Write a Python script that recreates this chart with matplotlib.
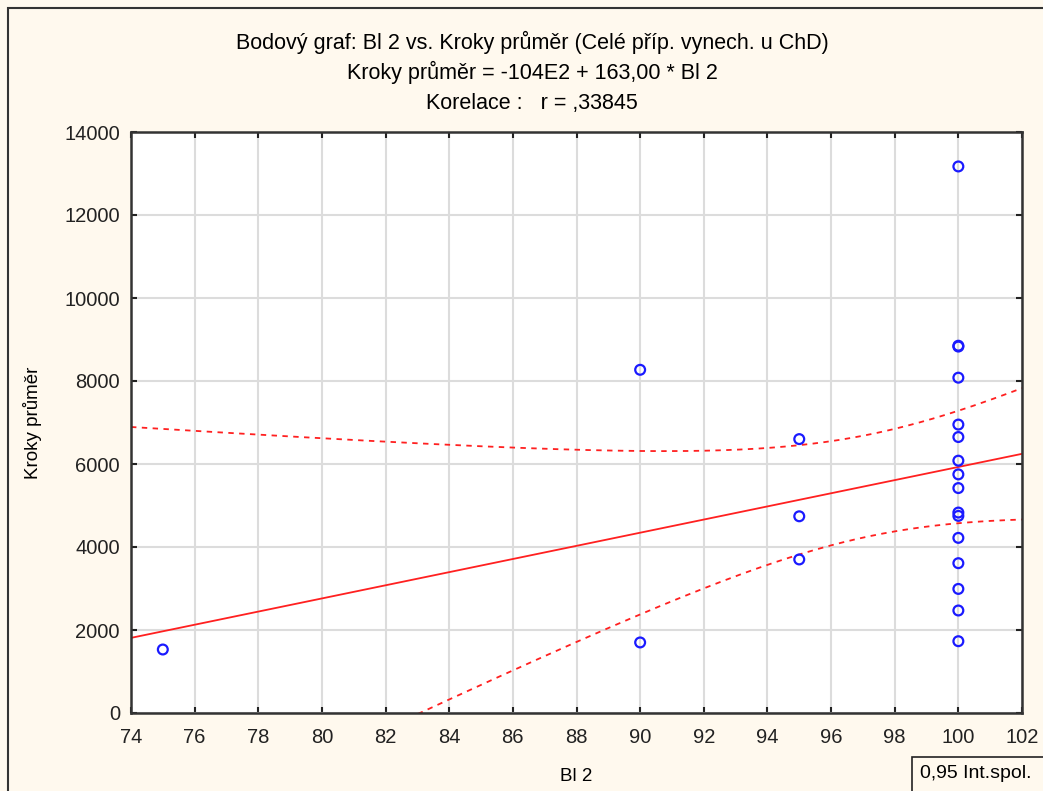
import numpy as np
import matplotlib
matplotlib.use("Agg")
import matplotlib.pyplot as plt
from matplotlib.patches import Rectangle

plt.rcParams['font.family'] = ['Liberation Sans', 'DejaVu Sans']

# data
bl2 = [75, 90, 90, 95, 95, 95,
       100, 100, 100, 100, 100, 100, 100, 100, 100, 100, 100, 100, 100, 100, 100, 100]
kroky = [1530, 8270, 1700, 6600, 4740, 3700,
         13170, 8850, 8830, 8080, 6950, 6650, 6080, 5750, 5420, 4830, 4750, 4220, 3610, 2990, 2470, 1730]
title_lines = ["Bodový graf: Bl 2 vs. Kroky průměr (Celé příp. vynech. u ChD)",
               "Kroky průměr = -104E2 + 163,00 * Bl 2",
               "Korelace :   r = ,33845"]
xticks = list(range(74, 103, 2))
yticks = list(range(0, 14001, 2000))

# regression line + 0.95 confidence band from the data
x = np.array(bl2, float); y = np.array(kroky, float)
n = len(x)
b, a = np.polyfit(x, y, 1)
res = y - (a + b*x)
s = np.sqrt((res**2).sum()/(n-2))
t = 2.086  # t(0.975, 20)
xx = np.linspace(74, 102, 200)
yy = a + b*xx
se = s*np.sqrt(1/n + (xx-x.mean())**2/((x-x.mean())**2).sum())

bg = '#fff9ee'
fig = plt.figure(figsize=(10.43, 7.91), dpi=100, facecolor=bg)
ax = fig.add_axes([131/1043, 1-713/791, (1022-131)/1043, (713-132)/791])
ax.set_facecolor('white')
ax.grid(True, color='#dcdcdc', lw=1.5)
ax.set_axisbelow(True)
ax.plot(xx, yy, color='#ff2020', lw=1.3)
ax.plot(xx, yy+t*se, color='#ff2020', lw=1.3, ls=(0, (3, 3)))
ax.plot(xx, yy-t*se, color='#ff2020', lw=1.3, ls=(0, (3, 3)))
ax.scatter(x, y, s=50, facecolors='none', edgecolors='#1a1aff', lw=1.6, zorder=3)
ax.set_xlim(74, 102); ax.set_ylim(0, 14000)
ax.set_xticks(xticks); ax.set_yticks(yticks)
ax.tick_params(direction='in', length=4, width=1.5, top=True, right=True,
               labelsize=14.5, colors='#222222', pad=8)
ax.tick_params(axis='x', pad=11)
for sp in ax.spines.values():
    sp.set_linewidth(1.8); sp.set_color('#333333')
ax.set_xlabel("Bl 2", fontsize=13.5, labelpad=15)
ax.set_ylabel("Kroky průměr", fontsize=13.5, labelpad=16)

for i, line in enumerate(title_lines):
    fig.text(532/1043, 1-(42+30.5*i)/791, line, ha='center', va='center', fontsize=15.5)

fig.patches.append(Rectangle((8/1043, -0.02), 1.0, 1-8/791+0.02, transform=fig.transFigure,
                             fill=False, ec='#333333', lw=1.5))
fig.patches.append(Rectangle((912/1043, -0.02), 0.2, (791-757)/791+0.02, transform=fig.transFigure,
                             fill=False, ec='#222222', lw=1.2))
fig.text(920/1043, 1-774/791, "0,95 Int.spol.", ha='left', va='center', fontsize=14)

fig.savefig("out.png", dpi=100, facecolor=bg)
